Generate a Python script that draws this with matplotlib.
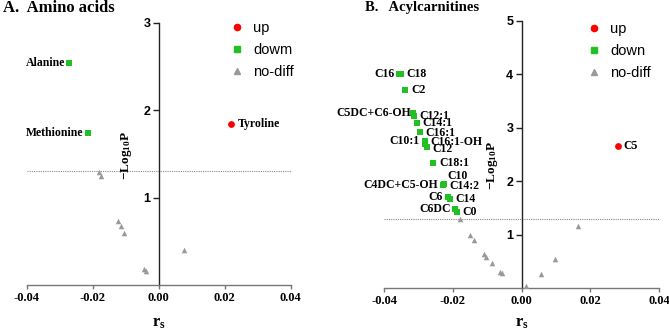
import matplotlib
matplotlib.use("Agg")
import matplotlib.pyplot as plt
from matplotlib.lines import Line2D

plt.rcParams['mathtext.fontset'] = 'custom'
plt.rcParams['mathtext.rm'] = 'Liberation Serif:bold'
plt.rcParams['mathtext.bf'] = 'Liberation Serif:bold'
plt.rcParams['mathtext.it'] = 'Liberation Serif:bold'
plt.rcParams['mathtext.default'] = 'bf'

SERIF = 'Liberation Serif'
SANS = 'Liberation Sans'

# ---------------- Data: Panel A (Amino acids) ----------------
a_up_names = ['Tyroline']
a_up_x = [0.0219]
a_up_y = [1.84]

a_down_names = ['Alanine', 'Methionine']
a_down_x = [-0.0271, -0.0215]
a_down_y = [2.54, 1.74]

a_nd_x = [-0.0180, -0.0175, -0.0122, -0.0115, -0.0105, -0.0044, -0.0039, 0.0076]
a_nd_y = [1.29, 1.25, 0.735, 0.678, 0.598, 0.187, 0.156, 0.396]

# ---------------- Data: Panel B (Acylcarnitines) ----------------
b_up_names = ['C5']
b_up_x = [0.0280]
b_up_y = [2.67]

b_down_names = ['C16', 'C18', 'C2', 'C5DC+C6-OH', 'C12:1', 'C14:1', 'C16:1',
                'C10:1', 'C16:1-OH', 'C12', 'C18:1', 'C10', 'C4DC+C5-OH',
                'C14:2', 'C6', 'C14', 'C6DC', 'C0']
b_down_x = [-0.0356, -0.0352, -0.0339, -0.03155, -0.03126, -0.03049, -0.02951,
            -0.02825, -0.02806, -0.02767, -0.02583, -0.02275, -0.02285,
            -0.02278, -0.02146, -0.02097, -0.01932, -0.01883]
b_down_y = [4.01, 4.01, 3.71, 3.27, 3.22, 3.10, 2.93,
            2.75, 2.70, 2.64, 2.34, 1.95, 1.94,
            1.93, 1.71, 1.67, 1.48, 1.42]

b_nd_x = [-0.01786, -0.01495, -0.01388, -0.01107, -0.01039, -0.00874, -0.00621,
          -0.00583, 0.00136, 0.00553, 0.0098, 0.0164]
b_nd_y = [1.30, 1.00, 0.90, 0.64, 0.59, 0.47, 0.31, 0.28, 0.05, 0.27, 0.54, 1.16]

threshold = 1.301

# label offsets (points) and alignment
a_label_pos = {
    'Tyroline': ((5, 0), 'left', 'center'),
    'Alanine': ((-3, 0), 'right', 'center'),
    'Methionine': ((-3.5, 0), 'right', 'center'),
}
b_label_pos = {
    'C5': ((4, 0), 'left', 'center'),
    'C16': ((-3.6, 0), 'right', 'center'),
    'C18': ((4, 0), 'left', 'center'),
    'C2': ((4.5, 0), 'left', 'center'),
    'C5DC+C6-OH': ((-1.5, 0), 'right', 'center'),
    'C12:1': ((4, 0), 'left', 'center'),
    'C14:1': ((4, -0.5), 'left', 'center'),
    'C16:1': ((4, -0.8), 'left', 'center'),
    'C10:1': ((-4, 0), 'right', 'center'),
    'C16:1-OH': ((4, 1.5), 'left', 'center'),
    'C12': ((4, -1.5), 'left', 'center'),
    'C18:1': ((5, 0), 'left', 'center'),
    'C10': ((3, 6), 'left', 'center'),
    'C4DC+C5-OH': ((-3.3, 0), 'right', 'center'),
    'C14:2': ((4, -1), 'left', 'center'),
    'C6': ((-3.5, 0), 'right', 'center'),
    'C14': ((4, 0), 'left', 'center'),
    'C6DC': ((-3.5, 0), 'right', 'center'),
    'C0': ((4, 0), 'left', 'center'),
}

RED = '#ff0000'
GREEN = '#22c022'
GRAY = '#999999'

fig = plt.figure(figsize=(6.69, 3.30), dpi=100)
axA = fig.add_axes([0.0399, 0.1364, 0.3946, 0.7948])
axB = fig.add_axes([0.5744, 0.1264, 0.4106, 0.8100])


def style_axes(ax, ymax, yticks, down_label, leg_anchor):
    ax.set_xlim(-0.04, 0.04)
    ax.set_ylim(0, ymax)
    ax.spines['left'].set_position(('data', 0))
    ax.spines['right'].set_visible(False)
    ax.spines['top'].set_visible(False)
    ax.spines['left'].set_color('#222222')
    ax.spines['bottom'].set_color('#777777')
    ax.spines['left'].set_linewidth(1.0)
    ax.spines['bottom'].set_linewidth(1.0)
    ax.set_xticks([-0.04, -0.02, 0.0, 0.02, 0.04])
    ax.set_xticklabels(['-0.04', '-0.02', '0.00', '0.02', '0.04'],
                       fontfamily=SERIF, fontweight='bold', fontsize=9)
    ax.set_yticks(yticks)
    ax.set_yticklabels([str(t) for t in yticks], fontfamily=SANS,
                       fontweight='bold', fontsize=9)
    ax.tick_params(axis='x', direction='out', length=3, width=1, colors='#777777',
                   labelcolor='black', pad=2)
    ax.tick_params(axis='y', direction='out', length=4, width=1, colors='#222222',
                   labelcolor='black', pad=2)
    ax.axhline(threshold, color='#888888', linestyle=(0, (1, 1)), linewidth=0.8,
               zorder=1)
    ax.set_xlabel(r'r$_\mathregular{s}$', fontfamily=SERIF, fontweight='bold',
                  fontsize=12)
    ax.set_ylabel(r'$-$Log$_{10}$P', fontfamily=SERIF, fontweight='bold',
                  fontsize=9.5)
    handles = [
        Line2D([], [], marker='o', color=RED, linestyle='none', markersize=4.5),
        Line2D([], [], marker='s', color=GREEN, linestyle='none', markersize=4.5),
        Line2D([], [], marker='^', color=GRAY, linestyle='none', markersize=4.0),
    ]
    ax.legend(handles, ['up', down_label, 'no-diff'], loc='upper left',
              bbox_to_anchor=leg_anchor, frameon=False,
              prop={'family': SANS, 'size': 10.5}, handletextpad=0.6,
              labelspacing=0.55, handlelength=1.0)


style_axes(axA, 3, [1, 2, 3], 'dowm', (0.72, 1.055))
style_axes(axB, 5, [1, 2, 3, 4, 5], 'down', (0.69, 1.045))

for ax, ux, uy, dx, dy, nx, ny in [
        (axA, a_up_x, a_up_y, a_down_x, a_down_y, a_nd_x, a_nd_y),
        (axB, b_up_x, b_up_y, b_down_x, b_down_y, b_nd_x, b_nd_y)]:
    ax.scatter(nx, ny, marker='^', s=16, color=GRAY, zorder=3, linewidths=0)
    ax.scatter(dx, dy, marker='s', s=22, color=GREEN, zorder=3, linewidths=0)
    ax.scatter(ux, uy, marker='o', s=24, color=RED, zorder=3, linewidths=0)


def label_points(ax, names, xs, ys, pos):
    for n, x, y in zip(names, xs, ys):
        off, ha, va = pos[n]
        ax.annotate(n, (x, y), xytext=off, textcoords='offset points', ha=ha,
                    va=va, fontfamily=SERIF, fontweight='bold', fontsize=8.5,
                    zorder=4)


label_points(axA, a_up_names, a_up_x, a_up_y, a_label_pos)
label_points(axA, a_down_names, a_down_x, a_down_y, a_label_pos)
label_points(axB, b_up_names, b_up_x, b_up_y, b_label_pos)
label_points(axB, b_down_names, b_down_x, b_down_y, b_label_pos)

axA.yaxis.set_label_coords(0.405, 0.495)
axB.yaxis.set_label_coords(0.42, 0.46)
axA.xaxis.set_label_coords(0.5, -0.115)
axB.xaxis.set_label_coords(0.5, -0.10)

fig.text(0.004, 0.975, 'A.  Amino acids', fontfamily=SERIF, fontweight='bold',
         fontsize=12, ha='left', va='center')
fig.text(0.545, 0.978, 'B.   Acylcarnitines', fontfamily=SERIF, fontweight='bold',
         fontsize=10.5, ha='left', va='center')

fig.savefig('out.png', dpi=100)
